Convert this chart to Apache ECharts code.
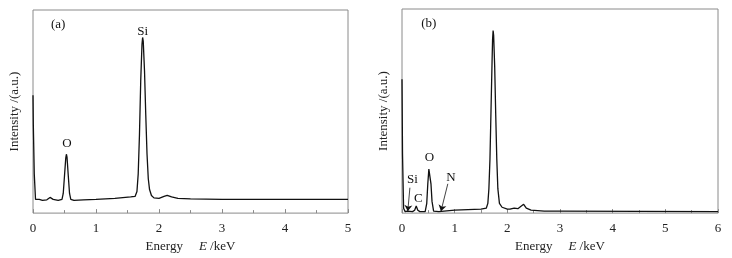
<!DOCTYPE html>
<html>
<head>
<meta charset="utf-8">
<script src="https://cdn.jsdelivr.net/npm/echarts@6/dist/echarts.min.js"></script>
<style>
  html, body { margin: 0; padding: 0; background: #fff; }
  #main { width: 732px; height: 258px; }
</style>
</head>
<body>
<div id="main"></div>
<script>
// EDS spectra (intensity in arbitrary units)
var energyA = [0, 0.005, 0.02, 0.04, 0.07, 0.1, 0.15, 0.22, 0.27, 0.32, 0.4, 0.46, 0.48, 0.5, 0.52, 0.53, 0.54, 0.56, 0.58, 0.6, 0.65, 0.8, 1.0, 1.3, 1.55, 1.62, 1.65, 1.67, 1.69, 1.71, 1.73, 1.74, 1.75, 1.77, 1.79, 1.81, 1.83, 1.85, 1.88, 1.92, 2.0, 2.08, 2.13, 2.2, 2.3, 2.5, 3.0, 4.0, 5.0];
var intensA = [120, 90, 40, 14, 12, 14, 13, 13.5, 16, 14, 13, 14, 20, 38, 56, 60, 57, 38, 20, 14, 13, 13.5, 14, 15, 16.5, 17, 22, 40, 80, 135, 172, 179, 175, 145, 100, 60, 35, 24, 18, 15.5, 15, 17, 18, 16.5, 15, 14.5, 14, 14, 14];

var energyB = [0, 0.01, 0.03, 0.06, 0.1, 0.2, 0.24, 0.27, 0.3, 0.34, 0.44, 0.47, 0.49, 0.51, 0.52, 0.53, 0.55, 0.57, 0.6, 0.7, 1.0, 1.5, 1.6, 1.63, 1.65, 1.67, 1.69, 1.71, 1.72, 1.73, 1.74, 1.76, 1.78, 1.8, 1.82, 1.85, 1.9, 2.0, 2.05, 2.13, 2.2, 2.26, 2.31, 2.36, 2.45, 2.7, 3.0, 6.0];
var intensB = [137, 60, 5, 1.5, 2, 1.5, 3, 7.3, 3, 1.5, 1.5, 10, 30, 45, 47, 45, 30, 12, 2, 1.5, 3, 4, 5, 10, 25, 55, 105, 155, 178, 187, 182, 150, 100, 55, 25, 10, 6, 4, 4, 5, 4.5, 7, 9, 5, 3, 2, 2, 1.5];

var xTicksA = [0, 1, 2, 3, 4, 5];
var xTicksB = [0, 1, 2, 3, 4, 5, 6];

// peak labels: [energy, intensity, text]
var labelsA = [[0.4, 192, '(a)'], [0.54, 71, 'O'], [1.74, 185, 'Si']];
var labelsB = [[0.51, 194, '(b)'], [0.52, 57, 'O'], [0.2, 34, 'Si'], [0.31, 15, 'C'], [0.93, 36, 'N']];
// arrows: [fromE, fromI, toE, toI]
var arrowsB = [[0.15, 26, 0.11, 2], [0.87, 30, 0.74, 2]];

function pairs(xs, ys) {
  return xs.map(function (x, i) { return [x, ys[i]]; });
}

var font = 'Liberation Serif';
var grey = '#8a8a8a';

function xAxisFor(idx, maxV, ticks) {
  return {
    gridIndex: idx,
    type: 'value',
    min: 0,
    max: maxV,
    interval: 1,
    name: '{n|Energy}{s|}{e|E}{n| /keV}',
    nameLocation: 'middle',
    nameGap: 20,
    nameTextStyle: {
      rich: {
        n: { fontFamily: font, fontSize: 13, color: '#222' },
        s: { width: 16 },
        e: { fontFamily: font, fontSize: 13, fontStyle: 'italic', color: '#222' }
      }
    },
    axisLine: { show: false },
    axisTick: { show: true, inside: true, length: 4, lineStyle: { color: grey } },
    minorTick: { show: true, splitNumber: 2, length: 3, lineStyle: { color: grey } },
    splitLine: { show: false },
    axisLabel: {
      fontFamily: font, fontSize: 13, color: '#222', margin: 9,
      formatter: function (v) { return ticks.indexOf(v) >= 0 ? String(v) : ''; }
    }
  };
}

function yAxisFor(idx, maxV) {
  return {
    gridIndex: idx,
    type: 'value',
    min: 0,
    max: maxV,
    name: 'Intensity /(a.u.)',
    nameLocation: 'middle',
    nameGap: 12,
    nameTextStyle: { fontFamily: font, fontSize: 13, color: '#222' },
    axisLine: { show: false },
    axisTick: { show: false },
    axisLabel: { show: false },
    splitLine: { show: false }
  };
}

function labelPoints(list) {
  return list.map(function (l) {
    return { coord: [l[0], l[1]], value: l[2] };
  });
}

function spectrum(idx, data, labels, arrows) {
  var s = {
    type: 'line',
    xAxisIndex: idx,
    yAxisIndex: idx,
    data: data,
    showSymbol: false,
    lineStyle: { color: '#111', width: 1.3 },
    animation: false,
    markPoint: {
      symbol: 'circle',
      symbolSize: 0,
      label: {
        show: true, position: 'inside',
        fontFamily: font, fontSize: 13, color: '#111',
        formatter: function (p) { return p.value; }
      },
      data: labelPoints(labels)
    }
  };
  if (arrows) {
    s.markLine = {
      silent: true,
      symbol: ['none', 'arrow'],
      symbolSize: 6,
      label: { show: false },
      lineStyle: { color: '#111', width: 0.8, type: 'solid' },
      data: arrows.map(function (a) {
        return [{ coord: [a[0], a[1]] }, { coord: [a[2], a[3]] }];
      })
    };
  }
  return s;
}

var chart = echarts.init(document.getElementById('main'), null, { renderer: 'canvas' });
chart.setOption({
  backgroundColor: '#fff',
  animation: false,
  grid: [
    { left: 33, right: 384, top: 10, bottom: 41, show: true, borderColor: grey, borderWidth: 1 },
    { left: 402, right: 14, top: 9, bottom: 40, show: true, borderColor: grey, borderWidth: 1 }
  ],
  xAxis: [xAxisFor(0, 5, xTicksA), xAxisFor(1, 6, xTicksB)],
  yAxis: [yAxisFor(0, 207), yAxisFor(1, 209)],
  series: [
    spectrum(0, pairs(energyA, intensA), labelsA, null),
    spectrum(1, pairs(energyB, intensB), labelsB, arrowsB)
  ]
});
</script>
</body>
</html>
